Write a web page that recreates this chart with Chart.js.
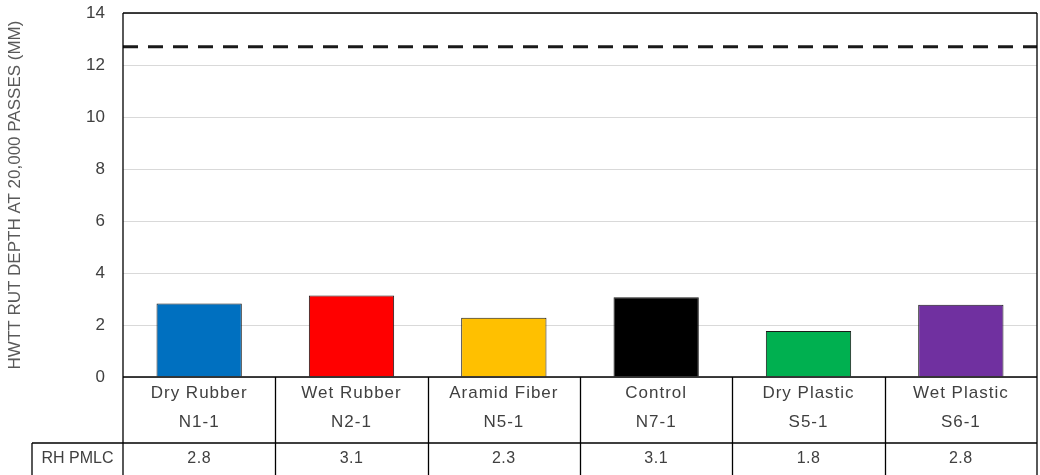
<!DOCTYPE html>
<html>
<head>
<meta charset="utf-8">
<script src="https://cdn.jsdelivr.net/npm/chart.js@4.4.1/dist/chart.umd.min.js"></script>
<style>
  html, body { margin: 0; padding: 0; background: #fff; }
  #wrap { width: 1040px; height: 475px; }
</style>
</head>
<body>
<div id="wrap"><canvas id="chart" width="1040" height="475"></canvas></div>
<script>
// data
const mezclas = ['Dry Rubber', 'Wet Rubber', 'Aramid Fiber', 'Control', 'Dry Plastic', 'Wet Plastic']
const secciones = ['N1-1', 'N2-1', 'N5-1', 'N7-1', 'S5-1', 'S6-1']
const rutDepth = [2.83, 3.13, 2.28, 3.07, 1.77, 2.78]
const colores = ['#0070C0', '#FF0000', '#FFC000', '#000000', '#00B050', '#7030A0']
const limite = 12.7
const yTicks = [0, 2, 4, 6, 8, 10, 12, 14]
const filaTabla = 'RH PMLC'

const textColor = '#404040'
const fuente = '"Liberation Sans", Arial, sans-serif'

// table under the chart (category labels + values)
const tablaPlugin = {
    id: 'tabla',
    afterDraw(chart) {
        const ctx = chart.ctx
        const area = chart.chartArea
        const x = chart.scales.x
        const H = chart.height
        const filaY = area.bottom + 66
        const izq = 32
        const paso = (area.right - area.left) / mezclas.length

        ctx.save()
        ctx.strokeStyle = '#000'
        ctx.lineWidth = 1.3
        ctx.beginPath()
        // frame
        ctx.moveTo(area.left, area.top); ctx.lineTo(area.right, area.top)
        ctx.moveTo(area.left, area.top); ctx.lineTo(area.left, H)
        ctx.moveTo(area.right, area.top); ctx.lineTo(area.right, H)
        ctx.moveTo(area.left, area.bottom); ctx.lineTo(area.right, area.bottom)
        // row line
        ctx.moveTo(izq, filaY); ctx.lineTo(area.right, filaY)
        ctx.moveTo(izq, filaY); ctx.lineTo(izq, H)
        for (let i = 1; i < mezclas.length; i++) {
            const xx = Math.round(area.left + paso * i) + 0.5
            ctx.moveTo(xx, area.bottom); ctx.lineTo(xx, H)
        }
        ctx.stroke()

        ctx.fillStyle = textColor
        ctx.textAlign = 'center'
        ctx.textBaseline = 'middle'
        ctx.font = '17px ' + fuente
        ctx.letterSpacing = '1px'
        mezclas.forEach((m, i) => {
            const cx = x.getPixelForValue(i)
            ctx.fillText(m, cx, area.bottom + 16)
            ctx.fillText(secciones[i], cx, area.bottom + 45)
        })
        ctx.font = '16px ' + fuente
        ctx.letterSpacing = '0.5px'
        mezclas.forEach((m, i) => {
            ctx.fillText(rutDepth[i].toFixed(1), x.getPixelForValue(i), filaY + 16)
        })
        ctx.letterSpacing = '0px'
        ctx.fillText(filaTabla, (izq + area.left) / 2, filaY + 16)
        ctx.restore()
    }
}

const data = {
    labels: mezclas,
    datasets: [{
        type: 'bar',
        label: 'HWTT',
        data: rutDepth,
        backgroundColor: colores,
        borderColor: '#1a1a1a',
        borderWidth: 1,
        grouped: false,
        categoryPercentage: 1,
        barPercentage: 0.56,
        xAxisID: 'x',
        order: 2
    }, {
        type: 'line',
        label: 'Límite',
        data: [{ x: 0, y: limite }, { x: mezclas.length, y: limite }],
        borderColor: '#1a1a1a',
        borderWidth: 3,
        borderDash: [15, 10],
        pointRadius: 0,
        xAxisID: 'x2',
        order: 1
    }]
}

const config = {
    type: 'bar',
    data: data,
    options: {
        responsive: false,
        animation: false,
        layout: { padding: { top: 13, right: 3, bottom: 98, left: 0 } },
        plugins: {
            legend: { display: false },
            tooltip: { enabled: false }
        },
        scales: {
            x: { type: 'category', display: false },
            x2: { type: 'linear', min: 0, max: mezclas.length, offset: false, display: false },
            y: {
                min: 0,
                max: 14,
                afterFit: (s) => { s.width = 123; s.paddingTop = 0; s.paddingBottom = 0 },
                afterBuildTicks: (s) => { s.ticks = yTicks.map(v => ({ value: v })) },
                ticks: {
                    padding: 18,
                    color: textColor,
                    font: { family: fuente, size: 17 }
                },
                grid: { color: '#d9d9d9', lineWidth: 1, drawTicks: false },
                border: { display: false },
                title: {
                    display: true,
                    text: 'HWTT RUT DEPTH AT 20,000 PASSES (MM)',
                    color: '#595959',
                    font: { family: fuente, size: 17 },
                    padding: { top: 5, bottom: 0 }
                }
            }
        }
    },
    plugins: [tablaPlugin]
}

const canvasBarras = document.getElementById('chart')
const graficoBarras = new Chart(canvasBarras, config)
</script>
</body>
</html>
